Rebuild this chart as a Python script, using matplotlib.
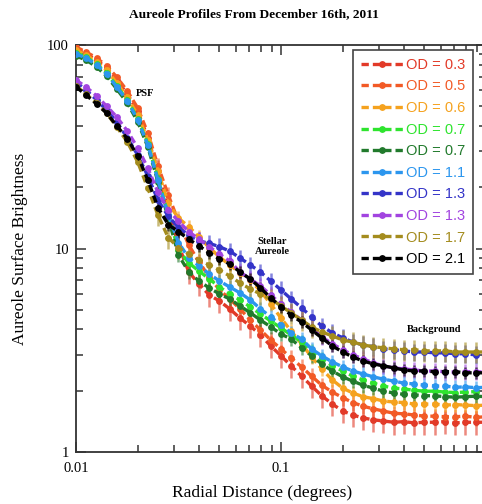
import matplotlib
matplotlib.use("Agg")
import matplotlib.pyplot as plt
from matplotlib.ticker import FixedLocator, FixedFormatter, LogLocator, NullFormatter

# ---------------- data ----------------
radial_deg = [0.0100, 0.0112, 0.0126, 0.0141, 0.0158, 0.0178, 0.0200, 0.0224, 0.0251, 0.0282,
              0.0316, 0.0355, 0.0398, 0.0447, 0.0501, 0.0562, 0.0631, 0.0708, 0.0794, 0.0891,
              0.1000, 0.112, 0.126, 0.141, 0.158, 0.178, 0.200, 0.224, 0.251, 0.282,
              0.316, 0.355, 0.398, 0.447, 0.501, 0.562, 0.631, 0.708, 0.794, 0.891, 1.000]

od_03 = [95.6, 90.3, 84.4, 77.2, 67.3, 57.4, 47.4, 35.0, 24.1, 15.5,
         10.4, 7.67, 6.69, 5.91, 5.52, 5.05, 4.55, 4.16, 3.76, 3.32,
         2.97, 2.65, 2.36, 2.11, 1.89, 1.72, 1.59, 1.52, 1.47, 1.44,
         1.42, 1.40, 1.41, 1.39, 1.40, 1.40, 1.41, 1.39, 1.40, 1.40, 1.40]
od_05 = [97.8, 92.4, 86.4, 78.9, 69.6, 59.4, 49.0, 37.0, 25.5, 18.3,
         13.6, 10.4, 8.58, 7.25, 6.26, 5.65, 5.05, 4.45, 3.98, 3.55,
         3.21, 2.90, 2.62, 2.36, 2.13, 1.97, 1.85, 1.75, 1.68, 1.63,
         1.59, 1.55, 1.54, 1.52, 1.50, 1.50, 1.49, 1.49, 1.50, 1.48, 1.49]
od_06 = [94.5, 89.3, 82.5, 75.4, 65.1, 55.5, 45.3, 34.2, 24.1, 16.7,
         14.1, 12.8, 11.4, 10.1, 9.09, 8.30, 7.59, 7.00, 6.18, 5.34,
         4.55, 3.93, 3.40, 2.93, 2.56, 2.26, 2.06, 1.95, 1.87, 1.83,
         1.78, 1.76, 1.75, 1.72, 1.72, 1.72, 1.70, 1.71, 1.70, 1.69, 1.70]
od_07a = [91.4, 87.3, 80.6, 72.9, 62.9, 53.7, 43.3, 32.7, 22.0, 14.6,
          9.83, 8.49, 7.75, 7.08, 6.47, 5.98, 5.59, 5.16, 4.77, 4.40,
          4.07, 3.76, 3.47, 3.14, 2.87, 2.65, 2.50, 2.36, 2.26, 2.18,
          2.11, 2.06, 2.04, 2.01, 1.99, 1.99, 1.97, 1.96, 1.97, 1.98, 1.97]
od_07b = [88.3, 84.4, 78.0, 70.4, 60.8, 51.9, 41.9, 31.6, 21.3, 14.1,
          9.29, 7.67, 6.92, 6.40, 5.98, 5.65, 5.22, 4.83, 4.45, 4.12,
          3.80, 3.59, 3.25, 2.97, 2.71, 2.50, 2.34, 2.23, 2.13, 2.06,
          1.99, 1.95, 1.92, 1.91, 1.89, 1.89, 1.87, 1.86, 1.87, 1.88, 1.87]
od_11 = [90.3, 86.4, 79.8, 72.1, 62.2, 53.1, 42.8, 32.3, 21.7, 14.6,
         10.7, 8.98, 8.21, 7.50, 6.92, 6.47, 6.05, 5.59, 5.05, 4.61,
         4.21, 3.85, 3.59, 3.21, 2.97, 2.77, 2.62, 2.50, 2.42, 2.34,
         2.28, 2.23, 2.18, 2.16, 2.13, 2.11, 2.11, 2.08, 2.09, 2.07, 2.08]
od_13a = [65.8, 60.1, 53.7, 47.9, 41.9, 35.0, 28.8, 22.7, 17.3, 14.4,
          12.7, 11.6, 10.9, 10.6, 10.2, 9.71, 8.98, 8.30, 7.67, 6.92,
          6.26, 5.65, 5.11, 4.61, 4.16, 3.85, 3.64, 3.47, 3.36, 3.29,
          3.21, 3.18, 3.14, 3.10, 3.10, 3.07, 3.07, 3.04, 3.04, 3.00, 3.00]
od_13b = [67.3, 62.2, 56.2, 50.1, 44.3, 37.8, 31.2, 24.9, 18.9, 15.5,
          13.6, 12.1, 11.1, 10.2, 9.39, 8.68, 7.67, 7.08, 6.55, 5.91,
          5.34, 4.88, 4.45, 4.07, 3.68, 3.40, 3.18, 3.00, 2.87, 2.74,
          2.65, 2.59, 2.56, 2.53, 2.50, 2.50, 2.48, 2.47, 2.48, 2.48, 2.47]
od_17 = [62.9, 57.4, 51.9, 46.3, 39.6, 33.4, 26.6, 19.8, 14.6, 11.3,
         10.1, 9.39, 8.78, 8.30, 7.84, 7.33, 6.77, 6.33, 5.98, 5.65,
         5.22, 4.83, 4.45, 4.12, 3.89, 3.72, 3.55, 3.47, 3.36, 3.29,
         3.25, 3.21, 3.18, 3.18, 3.14, 3.14, 3.14, 3.10, 3.10, 3.10, 3.10]
od_21 = [62.2, 56.8, 51.3, 46.3, 40.1, 34.6, 28.5, 21.7, 15.9, 13.1,
         12.1, 11.1, 10.3, 9.51, 8.88, 8.39, 7.67, 7.08, 6.40, 5.72,
         5.16, 4.71, 4.35, 3.98, 3.64, 3.32, 3.10, 2.93, 2.80, 2.71,
         2.65, 2.59, 2.53, 2.50, 2.50, 2.48, 2.48, 2.48, 2.45, 2.45, 2.45]

labels = ["OD = 0.3", "OD = 0.5", "OD = 0.6", "OD = 0.7", "OD = 0.7",
          "OD = 1.1", "OD = 1.3", "OD = 1.3", "OD = 1.7", "OD = 2.1"]
series = [od_03, od_05, od_06, od_07a, od_07b, od_11, od_13a, od_13b, od_17, od_21]
rel_err = [0.13, 0.09, 0.08, 0.08, 0.08, 0.08, 0.10, 0.09, 0.12, 0.07]

colors = ["#e23a28", "#f25a26", "#f5a21e", "#2ee42e", "#217a2c",
          "#2c96ee", "#3434c8", "#a244e0", "#a48c1e", "#000000"]

# ---------------- figure ----------------
serif = ["Liberation Serif", "DejaVu Serif"]
sans = ["Liberation Sans", "DejaVu Sans"]

fig = plt.figure(figsize=(4.82, 5.04), dpi=100)
ax = fig.add_axes([76 / 482, 1 - 452 / 504, 410 / 482, 407 / 504])
ax.set_xscale("log")
ax.set_yscale("log")

for y, lab, col, re in zip(series, labels, colors, rel_err):
    yerr = [v * re for v in y]
    ax.errorbar(radial_deg, y, yerr=yerr, fmt="none", ecolor=col, alpha=0.6,
                elinewidth=1.8, capsize=0, errorevery=(8, 1), zorder=2)
    ax.plot(radial_deg, y, ls="--", dashes=(2.2, 1.2), lw=2.4, color=col,
            marker="o", ms=3.9, mec=col, mfc=col, label=lab, zorder=3)

ax.set_xlim(0.01, 1)
ax.set_ylim(1, 100)

ax.xaxis.set_major_locator(FixedLocator([0.01, 0.1, 1]))
ax.xaxis.set_major_formatter(FixedFormatter(["0.01", "0.1", "1"]))
ax.yaxis.set_major_locator(FixedLocator([1, 10, 100]))
ax.yaxis.set_major_formatter(FixedFormatter(["1", "10", "100"]))
ax.xaxis.set_minor_locator(LogLocator(base=10, subs=range(2, 10)))
ax.yaxis.set_minor_locator(LogLocator(base=10, subs=range(2, 10)))
ax.xaxis.set_minor_formatter(NullFormatter())
ax.yaxis.set_minor_formatter(NullFormatter())

ax.tick_params(which="both", direction="in", top=True, right=True,
               color="#333333", width=1.1)
ax.tick_params(which="major", length=7)
ax.tick_params(which="minor", length=5)
ax.tick_params(axis="x", which="major", pad=7)
ax.tick_params(axis="y", which="major", pad=5)
for lab in ax.get_xticklabels() + ax.get_yticklabels():
    lab.set_family(serif)
    lab.set_fontsize(10.5)
for sp in ax.spines.values():
    sp.set_color("#333333")
    sp.set_linewidth(1.3)

fig.text(0.527, 0.972, "Aureole Profiles From December 16th, 2011",
         ha="center", va="center", family=serif, fontweight="bold", fontsize=9.6)
fig.text(0.543, 0.022, "Radial Distance (degrees)", ha="center", va="center",
         family=serif, fontsize=12.5)
fig.text(0.042, 0.506, "Aureole Surface Brightness", ha="center", va="center",
         rotation=90, family=serif, fontsize=12.5)

ax.text(0.0217, 58, "PSF", ha="center", va="center", family=serif,
        fontweight="bold", fontsize=7.5)
ax.text(0.0904, 10.2, "Stellar\nAureole", ha="center", va="center", family=serif,
        fontweight="bold", fontsize=7.5, linespacing=1.1)
ax.text(0.557, 3.98, "Background", ha="center", va="center", family=serif,
        fontweight="bold", fontsize=7.5)

leg = ax.legend(loc="upper right", bbox_to_anchor=(0.968, 0.988), borderaxespad=0,
                prop={"family": sans, "size": 10.5}, handlelength=2.9,
                handletextpad=0.15, labelspacing=0.52, borderpad=0.55,
                fancybox=False, framealpha=1, edgecolor="#444444")
leg.get_frame().set_linewidth(1.2)
for txt, col in zip(leg.get_texts(), colors):
    txt.set_color(col)

fig.savefig("out.png", dpi=100)
